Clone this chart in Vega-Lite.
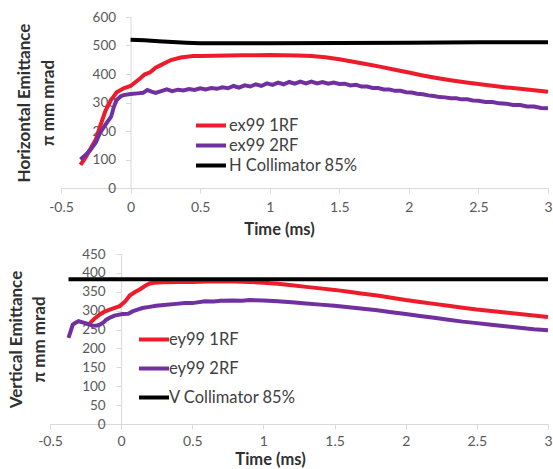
{
  "$schema": "https://vega.github.io/schema/vega-lite/v6.json",
  "background": "white",
  "padding": {"left": 7, "top": 10, "right": 0, "bottom": 0},
  "spacing": 9,
  "config": {
    "view": {"stroke": null},
    "font": "Lato",
    "axis": {
      "grid": false,
      "domainColor": "#d9d9d9",
      "tickColor": "#d9d9d9",
      "tickSize": 5,
      "labelFontSize": 13.5,
      "labelColor": "#595959",
      "labelFlush": false,
      "labelOverlap": false,
      "titleFontSize": 16.5,
      "titleFontWeight": "bold",
      "titleColor": "#303030"
    },
    "legend": {
      "padding": 0,
      "labelFontSize": 16.5,
      "labelColor": "#404040",
      "labelLimit": 300,
      "symbolType": "M-2,0H2",
      "symbolSize": 225,
      "symbolStrokeWidth": 4
    }
  },
  "resolve": {"scale": {"color": "independent"}},
  "datasets": {
    "horizontal": [
      {"series": "ex99 1RF", "t": -0.36, "v": 81},
      {"series": "ex99 1RF", "t": -0.32, "v": 110},
      {"series": "ex99 1RF", "t": -0.28, "v": 145},
      {"series": "ex99 1RF", "t": -0.25, "v": 170},
      {"series": "ex99 1RF", "t": -0.22, "v": 215},
      {"series": "ex99 1RF", "t": -0.18, "v": 272},
      {"series": "ex99 1RF", "t": -0.14, "v": 309},
      {"series": "ex99 1RF", "t": -0.1, "v": 336},
      {"series": "ex99 1RF", "t": -0.05, "v": 350},
      {"series": "ex99 1RF", "t": 0, "v": 358},
      {"series": "ex99 1RF", "t": 0.07, "v": 385},
      {"series": "ex99 1RF", "t": 0.1, "v": 398},
      {"series": "ex99 1RF", "t": 0.14, "v": 406},
      {"series": "ex99 1RF", "t": 0.18, "v": 422},
      {"series": "ex99 1RF", "t": 0.22, "v": 432},
      {"series": "ex99 1RF", "t": 0.29, "v": 449},
      {"series": "ex99 1RF", "t": 0.36, "v": 458},
      {"series": "ex99 1RF", "t": 0.45, "v": 463},
      {"series": "ex99 1RF", "t": 0.5, "v": 463},
      {"series": "ex99 1RF", "t": 0.6, "v": 464},
      {"series": "ex99 1RF", "t": 0.7, "v": 465},
      {"series": "ex99 1RF", "t": 0.8, "v": 466},
      {"series": "ex99 1RF", "t": 0.9, "v": 466},
      {"series": "ex99 1RF", "t": 1.0, "v": 467},
      {"series": "ex99 1RF", "t": 1.1, "v": 466},
      {"series": "ex99 1RF", "t": 1.2, "v": 465},
      {"series": "ex99 1RF", "t": 1.3, "v": 463},
      {"series": "ex99 1RF", "t": 1.4, "v": 459},
      {"series": "ex99 1RF", "t": 1.5, "v": 452},
      {"series": "ex99 1RF", "t": 1.6, "v": 443},
      {"series": "ex99 1RF", "t": 1.7, "v": 434},
      {"series": "ex99 1RF", "t": 1.8, "v": 425},
      {"series": "ex99 1RF", "t": 1.9, "v": 415},
      {"series": "ex99 1RF", "t": 2.0, "v": 405},
      {"series": "ex99 1RF", "t": 2.1, "v": 395},
      {"series": "ex99 1RF", "t": 2.2, "v": 386},
      {"series": "ex99 1RF", "t": 2.3, "v": 378},
      {"series": "ex99 1RF", "t": 2.4, "v": 371},
      {"series": "ex99 1RF", "t": 2.5, "v": 365},
      {"series": "ex99 1RF", "t": 2.6, "v": 359},
      {"series": "ex99 1RF", "t": 2.7, "v": 353},
      {"series": "ex99 1RF", "t": 2.8, "v": 348},
      {"series": "ex99 1RF", "t": 2.9, "v": 343},
      {"series": "ex99 1RF", "t": 3.0, "v": 338},

      {"series": "ex99 2RF", "t": -0.36, "v": 100},
      {"series": "ex99 2RF", "t": -0.32, "v": 118},
      {"series": "ex99 2RF", "t": -0.29, "v": 133},
      {"series": "ex99 2RF", "t": -0.25, "v": 160},
      {"series": "ex99 2RF", "t": -0.22, "v": 193},
      {"series": "ex99 2RF", "t": -0.18, "v": 222},
      {"series": "ex99 2RF", "t": -0.14, "v": 250},
      {"series": "ex99 2RF", "t": -0.12, "v": 285},
      {"series": "ex99 2RF", "t": -0.1, "v": 309},
      {"series": "ex99 2RF", "t": -0.07, "v": 322},
      {"series": "ex99 2RF", "t": -0.05, "v": 326},
      {"series": "ex99 2RF", "t": 0, "v": 330},
      {"series": "ex99 2RF", "t": 0.05, "v": 332},
      {"series": "ex99 2RF", "t": 0.09, "v": 334},
      {"series": "ex99 2RF", "t": 0.12, "v": 344},
      {"series": "ex99 2RF", "t": 0.15, "v": 338},
      {"series": "ex99 2RF", "t": 0.18, "v": 334},
      {"series": "ex99 2RF", "t": 0.22, "v": 340},
      {"series": "ex99 2RF", "t": 0.26, "v": 346},
      {"series": "ex99 2RF", "t": 0.3, "v": 340},
      {"series": "ex99 2RF", "t": 0.34, "v": 345},
      {"series": "ex99 2RF", "t": 0.38, "v": 342},
      {"series": "ex99 2RF", "t": 0.42, "v": 347},
      {"series": "ex99 2RF", "t": 0.46, "v": 344},
      {"series": "ex99 2RF", "t": 0.5, "v": 350},
      {"series": "ex99 2RF", "t": 0.54, "v": 346},
      {"series": "ex99 2RF", "t": 0.58, "v": 351},
      {"series": "ex99 2RF", "t": 0.62, "v": 348},
      {"series": "ex99 2RF", "t": 0.66, "v": 353},
      {"series": "ex99 2RF", "t": 0.7, "v": 350},
      {"series": "ex99 2RF", "t": 0.74, "v": 358},
      {"series": "ex99 2RF", "t": 0.78, "v": 352},
      {"series": "ex99 2RF", "t": 0.82, "v": 360},
      {"series": "ex99 2RF", "t": 0.86, "v": 356},
      {"series": "ex99 2RF", "t": 0.9, "v": 364},
      {"series": "ex99 2RF", "t": 0.94, "v": 358},
      {"series": "ex99 2RF", "t": 0.98, "v": 367},
      {"series": "ex99 2RF", "t": 1.02, "v": 362},
      {"series": "ex99 2RF", "t": 1.06, "v": 370},
      {"series": "ex99 2RF", "t": 1.1, "v": 364},
      {"series": "ex99 2RF", "t": 1.14, "v": 372},
      {"series": "ex99 2RF", "t": 1.18, "v": 366},
      {"series": "ex99 2RF", "t": 1.22, "v": 373},
      {"series": "ex99 2RF", "t": 1.26, "v": 367},
      {"series": "ex99 2RF", "t": 1.3, "v": 373},
      {"series": "ex99 2RF", "t": 1.34, "v": 367},
      {"series": "ex99 2RF", "t": 1.38, "v": 372},
      {"series": "ex99 2RF", "t": 1.42, "v": 366},
      {"series": "ex99 2RF", "t": 1.46, "v": 370},
      {"series": "ex99 2RF", "t": 1.5, "v": 365},
      {"series": "ex99 2RF", "t": 1.54, "v": 366},
      {"series": "ex99 2RF", "t": 1.58, "v": 360},
      {"series": "ex99 2RF", "t": 1.62, "v": 362},
      {"series": "ex99 2RF", "t": 1.66, "v": 356},
      {"series": "ex99 2RF", "t": 1.7, "v": 356},
      {"series": "ex99 2RF", "t": 1.74, "v": 351},
      {"series": "ex99 2RF", "t": 1.78, "v": 351},
      {"series": "ex99 2RF", "t": 1.82, "v": 346},
      {"series": "ex99 2RF", "t": 1.86, "v": 346},
      {"series": "ex99 2RF", "t": 1.9, "v": 341},
      {"series": "ex99 2RF", "t": 1.94, "v": 341},
      {"series": "ex99 2RF", "t": 1.98, "v": 336},
      {"series": "ex99 2RF", "t": 2.02, "v": 335},
      {"series": "ex99 2RF", "t": 2.06, "v": 331},
      {"series": "ex99 2RF", "t": 2.1, "v": 329},
      {"series": "ex99 2RF", "t": 2.14, "v": 325},
      {"series": "ex99 2RF", "t": 2.18, "v": 323},
      {"series": "ex99 2RF", "t": 2.22, "v": 319},
      {"series": "ex99 2RF", "t": 2.26, "v": 318},
      {"series": "ex99 2RF", "t": 2.3, "v": 315},
      {"series": "ex99 2RF", "t": 2.34, "v": 315},
      {"series": "ex99 2RF", "t": 2.38, "v": 311},
      {"series": "ex99 2RF", "t": 2.42, "v": 311},
      {"series": "ex99 2RF", "t": 2.46, "v": 307},
      {"series": "ex99 2RF", "t": 2.5, "v": 306},
      {"series": "ex99 2RF", "t": 2.55, "v": 302},
      {"series": "ex99 2RF", "t": 2.6, "v": 302},
      {"series": "ex99 2RF", "t": 2.65, "v": 297},
      {"series": "ex99 2RF", "t": 2.7, "v": 296},
      {"series": "ex99 2RF", "t": 2.75, "v": 291},
      {"series": "ex99 2RF", "t": 2.8, "v": 291},
      {"series": "ex99 2RF", "t": 2.85, "v": 286},
      {"series": "ex99 2RF", "t": 2.9, "v": 286},
      {"series": "ex99 2RF", "t": 2.95, "v": 281},
      {"series": "ex99 2RF", "t": 3.0, "v": 280},

      {"series": "H Collimator 85%", "t": 0, "v": 520},
      {"series": "H Collimator 85%", "t": 0.1, "v": 518},
      {"series": "H Collimator 85%", "t": 0.2, "v": 515},
      {"series": "H Collimator 85%", "t": 0.3, "v": 512},
      {"series": "H Collimator 85%", "t": 0.4, "v": 510},
      {"series": "H Collimator 85%", "t": 0.5, "v": 508},
      {"series": "H Collimator 85%", "t": 1.0, "v": 508},
      {"series": "H Collimator 85%", "t": 1.5, "v": 509},
      {"series": "H Collimator 85%", "t": 2.0, "v": 510},
      {"series": "H Collimator 85%", "t": 2.5, "v": 511},
      {"series": "H Collimator 85%", "t": 3.0, "v": 511}
    ],
    "vertical": [
      {"series": "ey99 1RF", "t": -0.22, "v": 267},
      {"series": "ey99 1RF", "t": -0.19, "v": 278},
      {"series": "ey99 1RF", "t": -0.15, "v": 290},
      {"series": "ey99 1RF", "t": -0.12, "v": 297},
      {"series": "ey99 1RF", "t": -0.08, "v": 303},
      {"series": "ey99 1RF", "t": -0.04, "v": 308},
      {"series": "ey99 1RF", "t": -0.01, "v": 312},
      {"series": "ey99 1RF", "t": 0.03, "v": 325},
      {"series": "ey99 1RF", "t": 0.06, "v": 340},
      {"series": "ey99 1RF", "t": 0.1, "v": 350},
      {"series": "ey99 1RF", "t": 0.13, "v": 356},
      {"series": "ey99 1RF", "t": 0.17, "v": 366},
      {"series": "ey99 1RF", "t": 0.2, "v": 372},
      {"series": "ey99 1RF", "t": 0.23, "v": 374},
      {"series": "ey99 1RF", "t": 0.3, "v": 375},
      {"series": "ey99 1RF", "t": 0.4, "v": 376},
      {"series": "ey99 1RF", "t": 0.5, "v": 376},
      {"series": "ey99 1RF", "t": 0.6, "v": 377},
      {"series": "ey99 1RF", "t": 0.7, "v": 377},
      {"series": "ey99 1RF", "t": 0.8, "v": 377},
      {"series": "ey99 1RF", "t": 0.9, "v": 376},
      {"series": "ey99 1RF", "t": 1.0, "v": 374},
      {"series": "ey99 1RF", "t": 1.1, "v": 371},
      {"series": "ey99 1RF", "t": 1.2, "v": 367},
      {"series": "ey99 1RF", "t": 1.3, "v": 363},
      {"series": "ey99 1RF", "t": 1.4, "v": 359},
      {"series": "ey99 1RF", "t": 1.5, "v": 355},
      {"series": "ey99 1RF", "t": 1.6, "v": 350},
      {"series": "ey99 1RF", "t": 1.7, "v": 345},
      {"series": "ey99 1RF", "t": 1.8, "v": 340},
      {"series": "ey99 1RF", "t": 1.9, "v": 334},
      {"series": "ey99 1RF", "t": 2.0, "v": 328},
      {"series": "ey99 1RF", "t": 2.1, "v": 323},
      {"series": "ey99 1RF", "t": 2.2, "v": 318},
      {"series": "ey99 1RF", "t": 2.3, "v": 313},
      {"series": "ey99 1RF", "t": 2.4, "v": 308},
      {"series": "ey99 1RF", "t": 2.5, "v": 303},
      {"series": "ey99 1RF", "t": 2.6, "v": 299},
      {"series": "ey99 1RF", "t": 2.7, "v": 295},
      {"series": "ey99 1RF", "t": 2.8, "v": 291},
      {"series": "ey99 1RF", "t": 2.9, "v": 287},
      {"series": "ey99 1RF", "t": 3.0, "v": 283},

      {"series": "ey99 2RF", "t": -0.37, "v": 228},
      {"series": "ey99 2RF", "t": -0.355, "v": 245},
      {"series": "ey99 2RF", "t": -0.34, "v": 263},
      {"series": "ey99 2RF", "t": -0.32, "v": 268},
      {"series": "ey99 2RF", "t": -0.3, "v": 272},
      {"series": "ey99 2RF", "t": -0.27, "v": 269},
      {"series": "ey99 2RF", "t": -0.245, "v": 266},
      {"series": "ey99 2RF", "t": -0.22, "v": 263},
      {"series": "ey99 2RF", "t": -0.2, "v": 260},
      {"series": "ey99 2RF", "t": -0.17, "v": 261},
      {"series": "ey99 2RF", "t": -0.15, "v": 263},
      {"series": "ey99 2RF", "t": -0.12, "v": 270},
      {"series": "ey99 2RF", "t": -0.105, "v": 276},
      {"series": "ey99 2RF", "t": -0.07, "v": 283},
      {"series": "ey99 2RF", "t": -0.047, "v": 287},
      {"series": "ey99 2RF", "t": 0.01, "v": 291},
      {"series": "ey99 2RF", "t": 0.05, "v": 292},
      {"series": "ey99 2RF", "t": 0.08, "v": 298},
      {"series": "ey99 2RF", "t": 0.11, "v": 302},
      {"series": "ey99 2RF", "t": 0.15, "v": 307},
      {"series": "ey99 2RF", "t": 0.2, "v": 310},
      {"series": "ey99 2RF", "t": 0.245, "v": 313},
      {"series": "ey99 2RF", "t": 0.3, "v": 315},
      {"series": "ey99 2RF", "t": 0.385, "v": 318},
      {"series": "ey99 2RF", "t": 0.45, "v": 320},
      {"series": "ey99 2RF", "t": 0.5, "v": 320},
      {"series": "ey99 2RF", "t": 0.59, "v": 325},
      {"series": "ey99 2RF", "t": 0.65, "v": 324},
      {"series": "ey99 2RF", "t": 0.7, "v": 326},
      {"series": "ey99 2RF", "t": 0.78, "v": 327},
      {"series": "ey99 2RF", "t": 0.85, "v": 326},
      {"series": "ey99 2RF", "t": 0.9, "v": 328},
      {"series": "ey99 2RF", "t": 1.0, "v": 327},
      {"series": "ey99 2RF", "t": 1.1, "v": 325},
      {"series": "ey99 2RF", "t": 1.2, "v": 322},
      {"series": "ey99 2RF", "t": 1.3, "v": 319},
      {"series": "ey99 2RF", "t": 1.4, "v": 316},
      {"series": "ey99 2RF", "t": 1.5, "v": 313},
      {"series": "ey99 2RF", "t": 1.6, "v": 309},
      {"series": "ey99 2RF", "t": 1.7, "v": 305},
      {"series": "ey99 2RF", "t": 1.8, "v": 301},
      {"series": "ey99 2RF", "t": 1.9, "v": 296},
      {"series": "ey99 2RF", "t": 2.0, "v": 291},
      {"series": "ey99 2RF", "t": 2.1, "v": 286},
      {"series": "ey99 2RF", "t": 2.2, "v": 281},
      {"series": "ey99 2RF", "t": 2.3, "v": 276},
      {"series": "ey99 2RF", "t": 2.4, "v": 271},
      {"series": "ey99 2RF", "t": 2.5, "v": 267},
      {"series": "ey99 2RF", "t": 2.6, "v": 263},
      {"series": "ey99 2RF", "t": 2.7, "v": 259},
      {"series": "ey99 2RF", "t": 2.8, "v": 255},
      {"series": "ey99 2RF", "t": 2.9, "v": 251},
      {"series": "ey99 2RF", "t": 3.0, "v": 248},

      {"series": "V Collimator 85%", "t": -0.37, "v": 383},
      {"series": "V Collimator 85%", "t": 3.0, "v": 383}
    ]
  },
  "vconcat": [
    {
      "width": 499,
      "height": 171,
      "data": {"name": "horizontal"},
      "mark": {"type": "line", "strokeWidth": 4},
      "encoding": {
        "x": {
          "field": "t", "type": "quantitative",
          "scale": {"domain": [-0.5, 3], "range": [11, 498], "nice": false, "zero": false},
          "axis": {
            "values": [-0.5, 0, 0.5, 1, 1.5, 2, 2.5, 3],
            "labelExpr": "datum.value < 0 ? '-' + format(-datum.value, '') : format(datum.value, '')",
            "title": "Time (ms)",
            "labelFontSize": 14,
            "labelPadding": 7,
            "titleX": 229,
            "titlePadding": 7
          }
        },
        "y": {
          "field": "v", "type": "quantitative",
          "scale": {"domain": [0, 600], "nice": false},
          "axis": {
            "values": [0, 100, 200, 300, 400, 500, 600],
            "offset": -80.57,
            "labelPadding": 10,
            "title": ["Horizontal Emittance", "π mm mrad"],
            "titleFontSize": 17,
            "titleLineHeight": 24,
            "titleBaseline": "middle",
            "titleX": -106
          }
        },
        "color": {
          "field": "series", "type": "nominal",
          "scale": {"domain": ["ex99 1RF", "ex99 2RF", "H Collimator 85%"], "range": ["#ee1c2b", "#7030a0", "#000000"]},
          "legend": {"orient": "none", "legendX": 151.5, "legendY": 99, "title": null, "labelOffset": 8.5, "rowPadding": 2}
        }
      }
    },
    {
      "width": 498,
      "height": 170,
      "data": {"name": "vertical"},
      "mark": {"type": "line", "strokeWidth": 4},
      "encoding": {
        "x": {
          "field": "t", "type": "quantitative",
          "scale": {"domain": [-0.5, 3], "nice": false, "zero": false},
          "axis": {
            "values": [-0.5, 0, 0.5, 1, 1.5, 2, 2.5, 3],
            "labelExpr": "datum.value < 0 ? '-' + format(-datum.value, '') : format(datum.value, '')",
            "title": "Time (ms)",
            "labelFontSize": 14,
            "labelPadding": 5,
            "titleX": 220,
            "titlePadding": 3
          }
        },
        "y": {
          "field": "v", "type": "quantitative",
          "scale": {"domain": [0, 450], "nice": false},
          "axis": {
            "values": [0, 50, 100, 150, 200, 250, 300, 350, 400, 450],
            "offset": -71.14,
            "labelPadding": 11,
            "title": ["Vertical Emittance", "π mm mrad"],
            "titleFontSize": 17,
            "titleLineHeight": 23,
            "titleBaseline": "middle",
            "titleX": -104.3
          }
        },
        "color": {
          "field": "series", "type": "nominal",
          "scale": {"domain": ["ey99 1RF", "ey99 2RF", "V Collimator 85%"], "range": ["#ee1c2b", "#7030a0", "#000000"]},
          "legend": {"orient": "none", "legendX": 94.5, "legendY": 76, "title": null, "labelOffset": 5.5, "rowPadding": 11}
        }
      }
    }
  ]
}
